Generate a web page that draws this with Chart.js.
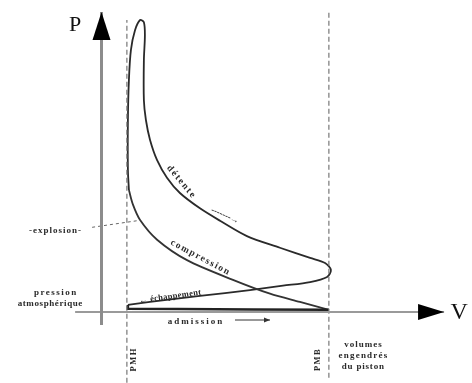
<!DOCTYPE html>
<html>
<head>
<meta charset="utf-8">
<script src="https://cdn.jsdelivr.net/npm/chart.js@4.4.1/dist/chart.umd.min.js"></script>
<style>
html,body{margin:0;padding:0;background:#fff;}
canvas{display:block;}
</style>
</head>
<body>
<canvas id="c" width="472" height="383"></canvas>
<script>
// ---- Data (V: volume units, PMH = 1, PMB = 9; P: pressure, bar) ----
const detenteV = [1.08,1.04,1.04,1.08,1.16,1.32,1.52,1.67,1.71,1.67,1.67,1.75,1.91,2.19,2.58,3.09,3.88,4.67,5.73,7.03,8.22,8.81,9.04,8.89,8.22,7.15,5.85,3.88,1.91,1.04];
const detenteP = [16.7,19.5,26.3,31.8,35.9,38.6,40.0,39.7,37.9,34.5,29.0,26.3,23.6,20.8,18.4,16.3,14.2,12.5,10.4,8.8,7.4,6.7,5.75,4.8,4.1,3.6,3.0,2.2,1.37,0.96];
const compressionV = [8.96,7.82,6.64,5.18,3.37,2.19,1.52,1.24,1.08];
const compressionP = [0.3,1.37,2.5,4.4,7.1,9.9,12.6,14.7,16.7];
const admissionV = [1.04,1.04,3.0,6.0,8.96];
const admissionP = [0.96,0.45,0.4,0.35,0.3];
const pmhV = [1.0,1.0];
const pmhP = [-9.7,40.0];
const pmbV = [8.96,8.96];
const pmbP = [-9.0,41.1];
const pAxisV = [0,0];
const pAxisP = [-1.78,41.1];
const vAxisV = [-1.04,13.5];
const vAxisP = [0,0];
const leaderV = [-0.37,1.40];
const leaderP = [11.6,12.5];
const admArrowV = [5.26,6.64];
const admArrowP = [-1.1,-1.1];

const labels = [
  {t:'P', v:-1.04, p:39.3, size:22, rot:0, color:'#111', sp:0, w:'normal'},
  {t:'V', v:14.09, p:-0.14, size:24, rot:0, color:'#111', sp:0, w:'normal'},
  {t:'-explosion-', v:-1.83, p:11.2, size:9, rot:0, sp:1},
  {t:'pression', v:-1.83, p:2.6, size:9, rot:0, sp:1.5},
  {t:'atmosphérique', v:-2.03, p:1.1, size:9, rot:0, sp:0.6},
  {t:'← échappement', v:2.70, p:2.1, size:8.5, rot:-8, sp:0.3},
  {t:'détente', v:3.13, p:17.9, size:9.5, rot:50, sp:1.6},
  {t:'-------→', v:4.87, p:13.2, size:9, rot:24, sp:0},
  {t:'compression', v:3.88, p:7.5, size:9.5, rot:28, sp:1.5},
  {t:'admission', v:3.68, p:-1.37, size:9, rot:0, sp:2},
  {t:'PMH', v:1.26, p:-6.6, size:8.5, rot:-90, sp:1.5},
  {t:'PMB', v:8.53, p:-6.6, size:8.5, rot:-90, sp:1.5},
  {t:'volumes', v:10.3, p:-4.5, size:9, rot:0, sp:1},
  {t:'engendrés', v:10.3, p:-6.0, size:9, rot:0, sp:1.2},
  {t:'du piston', v:10.3, p:-7.5, size:9, rot:0, sp:0.8}
];

function pts(xs, ys){ return xs.map((x,i)=>({x:x, y:ys[i]})); }

const textPlugin = {
  id:'texts',
  afterDatasetsDraw(chart){
    const ctx = chart.ctx, xs = chart.scales.x, ys = chart.scales.y;
    labels.forEach(l=>{
      ctx.save();
      ctx.translate(xs.getPixelForValue(l.v), ys.getPixelForValue(l.p));
      ctx.rotate(l.rot*Math.PI/180);
      ctx.font = (l.w || 'bold') + ' ' + l.size + 'px "Liberation Serif", "DejaVu Serif", serif';
      if ('letterSpacing' in ctx) ctx.letterSpacing = l.sp + 'px';
      ctx.fillStyle = l.color || '#2a2a2a';
      ctx.textAlign = 'center';
      ctx.textBaseline = 'middle';
      ctx.fillText(l.t, l.sp/2, 0);
      ctx.restore();
    });
  }
};

const arrowPlugin = {
  id:'arrows',
  afterDatasetsDraw(chart){
    const ctx = chart.ctx;
    chart.data.datasets.forEach((ds,i)=>{
      if(!ds.arrow) return;
      const meta = chart.getDatasetMeta(i);
      const n = meta.data.length;
      const a = meta.data[n-2], b = meta.data[n-1];
      const dx = b.x-a.x, dy = b.y-a.y, L = Math.hypot(dx,dy);
      const ux = dx/L, uy = dy/L;
      const len = ds.arrow.len, half = ds.arrow.half;
      const bx = b.x-ux*len, by = b.y-uy*len;
      ctx.save();
      ctx.fillStyle = ds.arrow.color || '#000';
      ctx.beginPath();
      ctx.moveTo(b.x,b.y);
      ctx.lineTo(bx - uy*half, by + ux*half);
      ctx.lineTo(bx + uy*half, by - ux*half);
      ctx.closePath();
      ctx.fill();
      ctx.restore();
    });
  }
};

const base = {showLine:true, pointRadius:0, fill:false};

new Chart(document.getElementById('c'), {
  type:'scatter',
  data:{datasets:[
    Object.assign({data:pts(pAxisV,pAxisP), borderColor:'#8c8c8c', borderWidth:3, arrow:{len:28, half:9}}, base),
    Object.assign({data:pts(vAxisV,vAxisP), borderColor:'#9a9a9a', borderWidth:2, arrow:{len:26, half:8}}, base),
    Object.assign({data:pts(pmhV,pmhP), borderColor:'#777', borderWidth:1.2, borderDash:[5,3]}, base),
    Object.assign({data:pts(pmbV,pmbP), borderColor:'#777', borderWidth:1.2, borderDash:[5,3]}, base),
    Object.assign({data:pts(leaderV,leaderP), borderColor:'#666', borderWidth:1, borderDash:[3,3]}, base),
    Object.assign({data:pts(admissionV,admissionP), borderColor:'#222', borderWidth:2.5}, base),
    Object.assign({data:pts(compressionV,compressionP), borderColor:'#333', borderWidth:1.8, tension:0.3}, base),
    Object.assign({data:pts(detenteV,detenteP), borderColor:'#2a2a2a', borderWidth:1.8, tension:0.3}, base),
    Object.assign({data:pts(admArrowV,admArrowP), borderColor:'#333', borderWidth:1, arrow:{len:6, half:2.5, color:'#333'}}, base)
  ]},
  options:{
    responsive:false,
    animation:false,
    devicePixelRatio:1,
    layout:{padding:0},
    plugins:{legend:{display:false}, tooltip:{enabled:false}},
    scales:{
      x:{type:'linear', min:-4, max:14.6, display:false},
      y:{type:'linear', min:-9.73, max:42.74, display:false}
    }
  },
  plugins:[arrowPlugin, textPlugin]
});
</script>
</body>
</html>
